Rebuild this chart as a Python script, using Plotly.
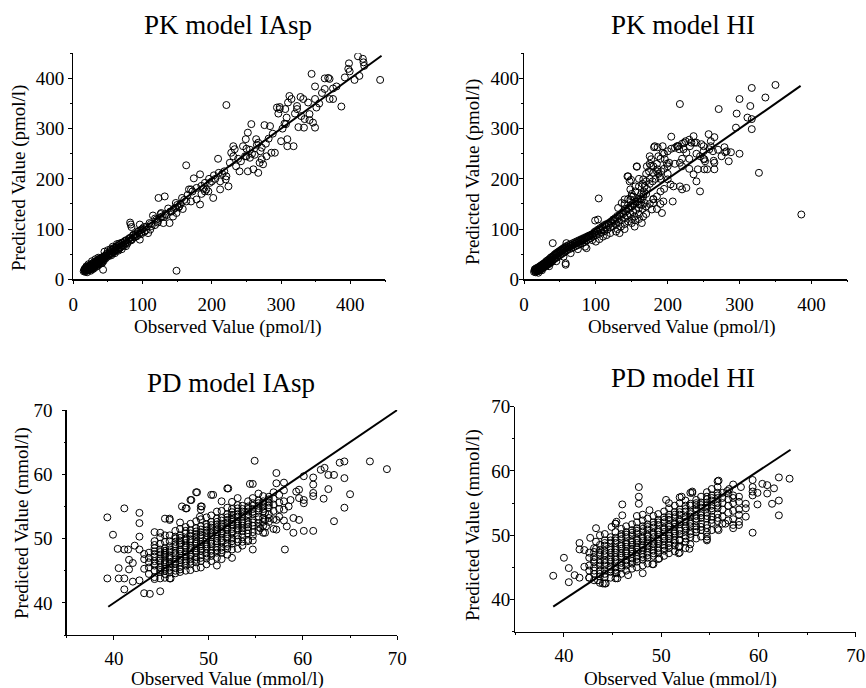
import plotly.graph_objects as go

# ---------------- DATA ----------------
# PK model IAsp: (observed, predicted) pmol/l
pk_iasp_points = [
    (15,16),(16,18),(17,15),(18,20),(18,17),(19,22),(20,19),(20,24),(21,18),(22,21),(22,26),(23,20),
    (24,23),(24,28),(25,22),(26,25),(26,30),(27,24),(28,27),(28,32),(29,26),(30,29),(30,34),(31,28),
    (32,31),(33,30),(33,36),(34,33),(35,32),(36,35),(36,39),(37,34),(38,37),(39,36),(40,39),(40,42),
    (41,38),(42,41),(43,40),(44,44),(45,42),(46,47),(20,14),(25,17),(30,22),(35,27),(38,30),(42,33),
    (27,36),(32,40),(36,43),(22,30),(19,26),(17,21),(28,20),(33,25),(40,32),(44,37),(47,45),(48,50),
    (50,48),(52,52),(53,56),(55,53),(56,58),(58,55),(59,61),(60,58),(61,63),(62,60),(63,66),(65,62),
    (66,68),(67,64),(68,70),(70,66),(71,72),(72,69),(74,75),(75,71),(77,78),(78,74),(80,80),(82,77),
    (83,83),(85,80),(86,87),(88,84),(90,90),(92,86),(93,94),(95,91),(97,98),(98,93),(100,101),(55,48),
    (60,52),(65,57),(70,60),(50,58),(57,65),(63,70),(45,55),(76,66),(43,19),
    (82,113),(83,109),(84,104),(96,109),(99,99),(96,79),(106,105),(111,99),(103,95),(108,92),(112,110),
    (115,127),(120,119),(118,108),(122,116),(125,122),(127,132),(130,112),(128,125),(133,130),(135,128),
    (139,112),(144,125),(140,135),(145,140),(147,142),(149,132),(150,148),(153,145),(155,150),(158,140),
    (160,158),(163,155),(123,162),(132,165),(163,227),(167,179),(170,179),(170,155),(174,201),(178,159),
    (183,149),(183,209),(185,170),(188,180),(190,175),(192,179),(195,175),(197,192),(200,195),(202,162),
    (205,200),(209,240),(212,179),(212,195),(215,210),(218,215),(220,199),(221,205),(224,185),(226,232),
    (228,252),(231,245),(231,265),(233,259),(235,225),(238,240),(240,215),(242,235),(245,265),(248,245),
    (249,279),(250,260),(250,245),(252,215),(252,292),(255,242),(255,258),(257,309),(258,250),(260,219),
    (262,248),(264,279),(265,268),(267,272),(267,212),(269,232),(270,255),(272,262),(272,239),(274,229),
    (276,307),(278,270),(279,245),(282,280),(284,305),(286,252),(288,290),(291,252),(294,342),(296,330),
    (298,339),(298,343),(300,275),(302,300),(305,310),(306,339),(307,309),(308,322),(309,279),(309,265),
    (310,352),(312,365),(315,359),(318,265),(320,330),(323,345),(323,339),(325,303),(328,363),(329,325),
    (332,359),(333,302),(334,319),(339,352),(341,329),(341,317),(344,409),(346,312),(349,384),(349,359),
    (349,302),(351,342),(355,350),(359,371),(363,379),(363,400),(368,401),(370,399),(370,359),(375,359),
    (375,380),(380,384),(387,344),(392,402),(397,419),(398,430),(399,414),(406,397),(411,444),(413,405),
    (418,439),(419,432),(420,425),(443,397),(149,17),(221,347),
    (16,20),(17,17),(18,23),(19,19),(20,21),(21,23),(22,18),(23,24),(24,19),(25,26),(26,21),(27,27),
    (28,23),(29,30),(30,25),(31,32),(32,27),(33,34),(34,29),(35,37),(36,31),(37,40),(38,34),(39,42),
    (41,35),(42,44),(44,40),(45,46),(47,42),(49,52),(51,46),(53,50),(54,60),(56,51),(58,62),(60,55),
    (62,64),(64,59),(66,71),(68,63),(70,73),(73,67),(75,77),(78,71),(81,82),(84,78),(87,89),(90,85),
    (94,96),(98,90),(102,104),(105,98),(110,112),(113,106),(118,121),(122,113),(126,130),(131,124),
    (137,141),(142,135),(148,152),(152,143),(157,162),(165,168),(172,175),(178,182),(185,186),(190,192),
    (196,200),(203,207),(210,212),
]

# PK model HI: (observed, predicted) pmol/l
pk_hi_points = [
    (14,15),(15,18),(16,14),(17,20),(18,16),(19,23),(20,18),(21,25),(22,20),(23,27),(24,22),(25,29),
    (26,24),(27,31),(28,26),(29,33),(30,28),(31,36),(32,30),(33,38),(34,32),(35,40),(36,34),(37,43),
    (38,36),(39,45),(40,38),(41,47),(42,40),(43,50),(44,42),(45,52),(46,44),(47,54),(48,46),(49,56),
    (50,48),(51,58),(52,50),(53,60),(54,52),(55,62),(56,54),(57,64),(58,56),(59,66),(60,58),(62,68),
    (63,60),(65,70),(66,62),(68,72),(69,64),(71,74),(72,66),(74,76),(75,68),(77,78),(78,70),(80,80),
    (81,72),(83,82),(84,74),(86,84),(87,77),(89,86),(90,80),(92,88),(93,82),(95,90),(96,85),(98,92),
    (100,88),(102,95),(104,90),(106,98),(108,93),(110,100),(112,96),(114,104),(116,99),(118,108),
    (120,103),(122,112),(124,106),(126,116),(128,110),(130,120),(132,114),(134,125),(136,118),(138,130),
    (140,122),(142,135),(144,126),(146,140),(148,130),(150,145),(152,134),(154,150),(156,138),(158,155),
    (160,142),(162,160),(164,148),(166,165),(168,152),(170,170),
    (40,72),(59,72),(58,32),(58,29),(87,62),(99,117),(103,119),(104,161),(124,119),(133,92),(131,142),
    (136,152),(140,159),(145,205),(147,195),(148,179),(152,165),(148,159),(154,125),(154,105),(157,225),
    (161,149),(164,159),(164,112),(166,169),(166,125),(166,199),(168,185),(171,225),(174,215),(175,245),
    (178,139),(180,152),(180,159),(180,212),(182,265),(187,245),(189,205),(192,132),(193,265),(193,252),
    (194,155),(196,239),(200,225),(200,199),(202,232),(204,189),(205,284),(207,155),(208,185),(213,265),
    (216,259),(217,232),(217,185),(217,349),(220,225),(220,179),(222,259),(223,272),(226,252),(226,182),
    (231,265),(236,285),(236,209),(237,272),(240,195),(245,175),(245,245),(247,269),(252,235),(255,219),
    (257,289),(263,255),(265,283),(265,232),(265,219),(271,339),(279,263),(280,253),(282,255),(288,253),
    (295,302),(296,330),(300,359),(311,322),(315,345),(317,381),(317,319),(317,299),(327,212),(336,362),
    (350,387),(386,129),
    (130,100),(135,105),(140,110),(145,115),(150,120),(155,118),(160,130),(165,140),(170,145),(175,150),
    (180,160),(185,165),(190,175),(195,180),(185,140),(190,150),(170,130),(160,120),(150,112),(140,100),
    (128,95),(120,92),(115,88),(110,85),(105,80),(100,75),(95,78),(85,65),(75,60),(65,52),(55,45),
    (45,36),(35,26),(25,18),(20,13),
    (140,150),(145,160),(150,165),(155,175),(160,185),(165,190),(170,195),(175,200),(180,225),(185,230),
    (190,240),(195,250),(200,255),(205,260),(210,262),(215,265),(220,270),(225,275),(230,278),(240,272),
    (250,265),(260,275),(270,258),(275,245),(285,235),(300,250),(240,250),(250,240),(230,240),(210,230),
    (200,210),(190,200),(185,215),(175,230),(170,210),(160,200),(155,185),(150,170),(220,240),(230,220),
    (250,255),(260,265),(157,224),(144,205),(149,198),(177,239),(177,226),(186,219),(242,219),(251,219),
    (251,239),(264,236),(258,259),(181,263),(186,263),(214,265),(233,272),
    (15,20),(16,16),(17,22),(18,19),(19,16),(20,22),(21,17),(22,24),(23,19),(24,26),(25,21),(26,28),
    (27,23),(28,30),(29,25),(30,32),(31,27),(32,34),(33,29),(34,36),(35,31),(36,38),(37,33),(38,41),
    (39,35),(40,43),(42,46),(44,48),(46,50),(48,52),(50,54),(52,56),(54,58),(56,60),(58,62),(60,64),
    (62,63),(64,66),(66,68),(68,68),(70,70),(72,72),(74,72),(76,74),(78,76),(80,78),(82,79),(84,80),
    (86,82),(88,84),(90,86),(92,86),(94,88),(96,90),(98,94),(100,96),(103,99),(106,102),(109,105),
    (112,108),(115,110),(118,112),(121,115),(124,118),(127,122),(130,126),(133,128),(136,132),(139,136),
    (142,140),(145,142),(148,146),(151,150),(155,155),(159,160),(163,170),(167,175),(171,180),(175,190),
    (179,195),(183,200),(187,210),(191,215),(195,220),(199,230),
]

# PD model IAsp: observed glucose columns with predicted values (mmol/l)
pd_iasp_columns = [
    (43.7, [44.5, 45.5, 46.3, 47.0, 47.8]),
    (44.3, [44.0, 45.0, 45.8, 46.5, 47.2, 48.0, 49.0, 49.6, 46.1, 47.6, 48.5]),
    (44.9, [43.8, 44.8, 45.5, 46.2, 46.9, 47.5, 48.3, 49.2, 50.2, 45.1, 46.6, 47.9]),
    (45.4, [44.5, 45.3, 46.0, 46.6, 47.2, 47.8, 48.5, 49.5, 50.5, 53.1, 45.0, 46.3, 47.5, 48.1]),
    (45.9, [43.8, 44.7, 45.5, 46.2, 46.8, 47.4, 48.0, 48.8, 49.6, 50.5, 52.9, 45.1, 46.0, 47.1, 48.3]),
    (46.5, [44.6, 45.4, 46.1, 46.8, 47.4, 48.1, 48.8, 49.5, 50.3, 51.2, 45.0, 46.4, 47.7, 49.1, 50.0]),
    (47.0, [44.8, 45.6, 46.3, 47.0, 47.6, 48.3, 49.0, 49.7, 50.5, 51.5, 52.5, 45.2, 46.7, 48.0, 49.3, 50.1]),
    (47.6, [45.0, 45.8, 46.5, 47.2, 47.9, 48.6, 49.3, 50.0, 50.8, 51.8, 54.7, 46.2, 47.5, 48.9, 49.7, 51.2]),
    (48.1, [45.1, 46.0, 46.8, 47.5, 48.2, 48.9, 49.6, 50.4, 51.3, 52.3, 56.0, 46.4, 47.2, 48.5, 49.9, 50.8]),
    (48.7, [45.4, 46.3, 47.1, 47.8, 48.5, 49.2, 49.9, 50.7, 51.6, 52.7, 57.2, 46.7, 48.1, 49.5, 50.3, 51.1]),
    (49.2, [45.5, 46.5, 47.4, 48.1, 48.8, 49.5, 50.2, 51.0, 51.9, 53.0, 54.5, 55.0, 47.0, 48.4, 49.1, 50.6, 51.4]),
    (49.8, [46.0, 46.9, 47.7, 48.4, 49.1, 49.8, 50.5, 51.3, 52.2, 53.3, 47.3, 48.8, 50.1, 50.9, 51.8]),
    (50.3, [46.5, 47.3, 48.1, 48.8, 49.5, 50.2, 50.9, 51.7, 52.6, 53.6, 56.8, 47.7, 49.2, 50.5, 51.3, 52.1]),
    (50.9, [45.8, 47.0, 47.8, 48.6, 49.3, 50.0, 50.7, 51.4, 52.2, 53.1, 54.2, 48.2, 49.6, 51.0, 51.8, 52.6]),
    (51.4, [46.8, 47.8, 48.6, 49.4, 50.1, 50.8, 51.5, 52.3, 53.2, 54.3, 55.8, 48.2, 49.7, 51.1, 51.9, 52.8]),
    (52.0, [47.5, 48.4, 49.2, 50.0, 50.7, 51.4, 52.1, 52.9, 53.8, 54.8, 57.8, 48.8, 50.3, 51.7, 52.5, 53.3]),
    (52.5, [48.3, 49.2, 50.0, 50.8, 51.5, 52.2, 52.9, 53.7, 54.6, 55.7, 49.6, 51.1, 52.6, 53.3, 54.1]),
    (53.1, [48.4, 49.5, 50.5, 51.3, 52.0, 52.7, 53.4, 54.2, 55.2, 56.3, 49.9, 51.6, 52.3, 53.8, 54.7]),
    (53.6, [48.9, 50.2, 51.2, 52.0, 52.7, 53.4, 54.2, 55.1, 49.5, 51.6, 52.4, 53.8, 54.6]),
    (54.2, [49.8, 50.8, 51.8, 52.6, 53.4, 54.2, 55.0, 55.8, 51.3, 52.2, 53.8, 54.6]),
    (54.7, [48.3, 49.7, 51.0, 52.0, 53.0, 53.8, 54.6, 55.5, 56.3, 58.5, 50.4, 52.5, 54.2, 55.1]),
    (55.3, [51.2, 52.4, 53.4, 54.3, 55.1, 55.9, 57.0, 51.8, 53.0, 54.7, 55.5]),
    (55.8, [50.9, 52.0, 53.2, 54.2, 55.0, 55.8, 56.6, 52.6, 54.6, 55.4]),
    (56.4, [52.6, 53.8, 54.8, 55.6, 56.5, 53.2, 55.2, 56.1]),
    (56.9, [51.5, 53.0, 54.3, 55.3, 56.2, 57.2]),
    (57.5, [53.4, 54.6, 55.6, 56.8]),
    (58.0, [52.8, 54.5, 55.8, 57.5, 58.7]),
]
pd_iasp_extra = [
    (39.3,53.3),(39.9,50.6),(41.1,54.7),(40.4,48.4),(41.1,48.3),(41.5,48.3),(42.2,48.9),(42.7,48.3),
    (42.7,54.0),(42.7,52.4),(42.7,50.3),(39.3,43.8),(40.5,45.4),(40.5,43.8),(41.1,43.8),(41.1,42.1),
    (41.6,46.7),(41.6,45.2),(42.0,46.2),(42.0,43.3),(42.7,43.5),(43.2,41.5),(43.8,41.4),(44.9,41.8),
    (44.3,51.0),(44.9,50.9),(45.9,53.1),(47.2,55.0),(47.7,54.7),(48.2,56.0),(48.8,57.2),(49.1,53.4),
    (49.3,55.0),(50.5,56.8),(52.1,57.8),(54.4,58.5),(54.9,62.1),(57.2,60.2),(57.2,58.6),(58.1,48.3),
    (59.0,50.9),(60.1,51.2),(61.1,51.2),(63.3,52.7),(64.4,54.8),(65.0,56.9),(67.1,62.0),(68.9,60.8),
    (63.9,61.8),(64.4,62.0),(61.9,60.7),(62.3,61.0),(62.7,59.9),(63.3,59.9),(62.7,57.7),(64.4,59.4),
    (61.1,59.5),(61.1,58.4),(61.1,57.1),(61.1,56.6),(62.2,56.2),(60.1,56.0),(60.1,55.5),(60.1,59.7),
    (59.6,52.9),(59.0,53.2),(58.3,51.9),(58.5,55.0),(58.7,56.0),(59.3,57.3),(59.6,57.6),(59.6,56.3),
    (56.0,54.0),(56.0,52.9),(56.1,51.9),(57.2,52.9),(57.2,51.4),(55.5,51.6),(56.0,50.9),(43.2,46.8),
    (43.2,45.3),(43.2,47.6),(44.3,43.7),(45.4,43.9),(46.0,43.8),(53.6,50.7),(54.2,49.6),(52.5,47.0),
]

# PD model HI: observed glucose columns with predicted values (mmol/l)
pd_hi_columns = [
    (42.6, [43.4, 44.5, 45.3, 46.5, 47.3]),
    (43.1, [43.0, 44.0, 45.0, 45.8, 46.6, 47.4, 48.0, 44.5, 46.2]),
    (43.7, [42.6, 43.6, 44.5, 45.3, 46.1, 46.9, 47.7, 48.5, 50.0, 44.0, 45.7, 47.3]),
    (44.2, [42.5, 43.5, 44.5, 45.3, 46.1, 46.9, 47.6, 48.4, 49.2, 50.2, 44.0, 45.7, 47.2, 48.8]),
    (44.8, [43.4, 44.3, 45.1, 45.9, 46.6, 47.3, 48.0, 48.8, 49.7, 44.7, 46.2, 47.7, 49.2]),
    (45.3, [43.3, 44.2, 45.0, 45.8, 46.6, 47.3, 48.0, 48.8, 49.6, 50.5, 51.8, 44.6, 46.2, 47.7, 49.2]),
    (45.9, [44.0, 44.9, 45.7, 46.5, 47.2, 47.9, 48.6, 49.4, 50.2, 51.0, 45.3, 46.8, 48.3, 49.8]),
    (46.4, [44.5, 45.3, 46.1, 46.8, 47.5, 48.2, 48.9, 49.7, 50.5, 51.4, 45.7, 47.2, 48.6, 50.1]),
    (47.0, [44.8, 45.6, 46.4, 47.1, 47.8, 48.5, 49.2, 50.0, 50.8, 51.7, 46.0, 47.5, 48.9, 50.4]),
    (47.5, [45.0, 45.9, 46.7, 47.4, 48.1, 48.8, 49.5, 50.3, 51.1, 52.0, 53.0, 46.3, 47.8, 49.2, 50.7]),
    (48.1, [45.3, 46.2, 47.0, 47.7, 48.4, 49.1, 49.8, 50.6, 51.4, 52.3, 53.2, 46.6, 48.1, 49.5, 51.0]),
    (48.6, [45.6, 46.5, 47.3, 48.0, 48.7, 49.4, 50.1, 50.9, 51.7, 52.6, 46.9, 48.4, 49.8, 51.3]),
    (49.2, [45.5, 46.8, 47.6, 48.3, 49.0, 49.7, 50.4, 51.2, 52.0, 53.0, 47.2, 48.7, 50.1, 51.6]),
    (49.7, [46.3, 47.2, 48.0, 48.7, 49.4, 50.1, 50.8, 51.6, 52.4, 53.3, 47.6, 49.1, 50.5, 52.0]),
    (50.3, [46.8, 47.6, 48.4, 49.1, 49.8, 50.5, 51.2, 52.0, 52.8, 53.7, 48.0, 49.5, 50.9, 52.4]),
    (50.8, [47.2, 48.0, 48.8, 49.5, 50.2, 50.9, 51.6, 52.4, 53.2, 54.2, 55.0, 48.4, 49.9, 51.3, 52.8]),
    (51.4, [47.5, 48.4, 49.2, 49.9, 50.6, 51.3, 52.0, 52.8, 53.6, 54.6, 48.8, 50.3, 51.7, 53.2]),
    (51.9, [47.3, 48.3, 49.3, 50.2, 51.0, 51.7, 52.4, 53.2, 54.0, 55.0, 55.9, 49.2, 50.7, 52.1, 53.6]),
    (52.5, [48.0, 49.0, 49.9, 50.7, 51.4, 52.1, 52.9, 53.7, 54.6, 55.4, 49.5, 51.1, 52.5, 54.1]),
    (53.0, [48.6, 49.7, 50.6, 51.4, 52.1, 52.9, 53.7, 54.6, 56.6, 50.2, 51.8, 53.3, 54.9]),
    (53.6, [49.5, 50.5, 51.4, 52.2, 53.0, 53.8, 54.7, 55.5, 50.9, 52.6, 54.2, 55.0]),
    (54.1, [49.8, 50.8, 51.8, 52.7, 53.5, 54.3, 55.1, 56.0, 51.3, 53.1, 54.7]),
    (54.7, [49.4, 50.5, 51.6, 52.6, 53.5, 54.3, 55.1, 56.0, 56.7, 51.1, 53.0, 54.7, 55.6]),
    (55.2, [50.8, 51.9, 52.9, 53.8, 54.6, 55.4, 56.2, 57.2, 52.4, 54.2, 55.8]),
    (55.8, [51.0, 52.2, 53.3, 54.2, 55.0, 55.8, 56.6, 57.5, 58.4, 52.7, 54.6, 56.2]),
    (56.3, [51.8, 52.9, 54.0, 55.0, 55.8, 56.6]),
    (56.9, [52.3, 53.5, 54.6, 55.6, 56.5]),
    (57.4, [51.1, 51.6, 52.5, 53.8, 55.0, 55.8, 56.2]),
]
pd_hi_extra = [
    (38.9,43.7),(40.0,46.5),(40.5,44.9),(40.5,42.7),(41.1,43.8),(41.6,48.8),(41.6,47.8),(41.6,43.4),
    (42.1,45.1),(42.1,47.7),(42.7,49.6),(43.3,51.1),(43.3,49.0),(43.3,47.9),(44.9,51.3),(45.3,51.8),
    (46.0,53.1),(46.0,54.8),(45.4,52.1),(47.7,57.5),(47.7,56.0),(47.7,54.9),(48.8,53.9),(50.5,55.5),
    (52.1,56.0),(53.2,56.8),(53.2,56.6),(55.9,58.5),(59.4,50.4),(62.1,59.0),(63.2,58.8),(62.1,53.1),
    (62.1,55.4),(61.4,54.9),(59.9,54.8),(60.4,58.0),(60.9,57.8),(61.6,57.3),(60.9,56.5),(59.9,56.6),
    (59.4,58.6),(59.4,57.5),(59.4,56.8),(59.4,56.2),(58.7,54.9),(58.7,54.2),(58.7,52.9),(58.2,57.5),
    (58.0,56.0),(58.0,55.2),(58.0,54.0),(58.0,53.2),(58.0,52.1),(58.0,51.6),(56.6,51.8),(55.9,50.8),
    (54.7,49.8),(54.7,49.2),(52.9,47.9),(51.8,48.2),(51.8,47.2),(49.8,46.4),(49.1,45.5),(48.1,44.1),
    (46.6,43.8),(44.3,42.5),(44.0,42.5),(43.5,43.0),(42.6,43.4),(45.5,43.3),(45.4,44.1),(57.0,57.2),
    (57.4,57.9),(56.8,56.9),
]

# identity-line extents (observed range)
pk_iasp_line = [15, 445]
pk_hi_line = [15, 385]
pd_iasp_line = [39.4, 70.0]
pd_hi_line = [38.9, 63.3]

titles = ["PK model IAsp", "PK model HI", "PD model IAsp", "PD model HI"]
x_titles = ["Observed Value (pmol/l)", "Observed Value (pmol/l)",
            "Observed Value (mmol/l)", "Observed Value (mmol/l)"]
y_titles = ["Predicted Value (pmol/l)", "Predicted Value (pmol/l)",
            "Predicted Value (mmol/l)", "Predicted Value (mmol/l)"]

# ---------------- BUILD ----------------
def split_pairs(pairs):
    return [p[0] for p in pairs], [p[1] for p in pairs]

def split_columns(cols, extra):
    xs, ys = [], []
    for x, vals in cols:
        for v in vals:
            xs.append(x)
            ys.append(v)
    ex, ey = split_pairs(extra)
    return xs + ex, ys + ey

W, H = 866, 688
def px(x):
    return x / W
def py(y):
    return 1 - y / H

FONT = "Liberation Serif"

panels = [
    dict(data=split_pairs(pk_iasp_points), line=pk_iasp_line,
         xd=(73.3, 385.0), yd=(53.3, 279.3), rng=(0, 450), dt=100, mdt=50,
         tpos=(228, 25), xtpos=(228, 327), ytpos=(19, 178), ystand=4, xstand=8),
    dict(data=split_pairs(pk_hi_points), line=pk_hi_line,
         xd=(524.0, 847.3), yd=(53.3, 279.3), rng=(0, 450), dt=100, mdt=50,
         tpos=(683, 25), xtpos=(682, 327), ytpos=(473, 172), ystand=0, xstand=8),
    dict(data=split_columns(pd_iasp_columns, pd_iasp_extra), line=pd_iasp_line,
         xd=(66.7, 397.3), yd=(410.0, 635.0), rng=(35, 70), dt=10, mdt=5,
         tpos=(231, 383), xtpos=(227, 679), ytpos=(22, 523), ystand=9, xstand=6),
    dict(data=split_columns(pd_hi_columns, pd_hi_extra), line=pd_hi_line,
         xd=(515.3, 855.7), yd=(406.7, 631.7), rng=(35, 70), dt=10, mdt=5,
         tpos=(683, 378), xtpos=(680, 679), ytpos=(473, 525), ystand=0, xstand=6),
]

fig = go.Figure()
annotations = []
for i, p in enumerate(panels):
    n = "" if i == 0 else str(i + 1)
    m = str(i + 5)  # overlay axes that only carry the tick marks
    xs, ys = p["data"]
    fig.add_trace(go.Scatter(
        x=xs, y=ys, mode="markers", xaxis="x" + n, yaxis="y" + n,
        marker=dict(symbol="circle-open", size=7, color="black", line=dict(width=1)),
        showlegend=False, hoverinfo="skip"))
    fig.add_trace(go.Scatter(
        x=p["line"], y=p["line"], mode="lines", xaxis="x" + n, yaxis="y" + n,
        line=dict(color="black", width=2), showlegend=False, hoverinfo="skip"))
    # invisible trace so the tick-only overlay subplot gets drawn
    fig.add_trace(go.Scatter(
        x=p["line"], y=p["line"], mode="lines", xaxis="x" + m, yaxis="y" + m,
        line=dict(color="rgba(0,0,0,0)", width=0), showlegend=False, hoverinfo="skip"))
    base = dict(range=list(p["rng"]), dtick=p["dt"], tick0=0, showgrid=False,
                zeroline=False, automargin=False, fixedrange=True)
    # label axes: line + labels, no tick marks
    lab = dict(base, showline=True, linecolor="black", linewidth=1.3, ticks="",
               tickfont=dict(family=FONT, size=19, color="black"))
    # tick axes: major + minor outside tick marks, no labels
    tk = dict(base, showline=False, showticklabels=False, ticks="outside", ticklen=4,
              tickwidth=1, tickcolor="black",
              minor=dict(dtick=p["mdt"], ticks="outside", ticklen=2, tickwidth=1,
                         tickcolor="black"))
    xdom = [px(p["xd"][0]), px(p["xd"][1])]
    ydom = [py(p["yd"][1]), py(p["yd"][0])]
    fig.update_layout(**{
        "xaxis" + n: dict(lab, domain=xdom, anchor="y" + n, ticklabelstandoff=p["xstand"]),
        "yaxis" + n: dict(lab, domain=ydom, anchor="x" + n, ticklabelstandoff=p["ystand"]),
        "xaxis" + m: dict(tk, domain=xdom, anchor="y" + m, overlaying="x" + n),
        "yaxis" + m: dict(tk, domain=ydom, anchor="x" + m, overlaying="y" + n),
    })
    annotations.append(dict(text=titles[i], x=px(p["tpos"][0]), y=py(p["tpos"][1]),
                            xref="paper", yref="paper", showarrow=False,
                            xanchor="center", yanchor="middle",
                            font=dict(family=FONT, size=27, color="black")))
    annotations.append(dict(text=x_titles[i], x=px(p["xtpos"][0]), y=py(p["xtpos"][1]),
                            xref="paper", yref="paper", showarrow=False,
                            xanchor="center", yanchor="middle",
                            font=dict(family=FONT, size=19, color="black")))
    annotations.append(dict(text=y_titles[i], x=px(p["ytpos"][0]), y=py(p["ytpos"][1]),
                            xref="paper", yref="paper", showarrow=False, textangle=-90,
                            xanchor="center", yanchor="middle",
                            font=dict(family=FONT, size=19, color="black")))

fig.update_layout(width=W, height=H, margin=dict(l=0, r=0, t=0, b=0, autoexpand=False),
                  paper_bgcolor="white", plot_bgcolor="white",
                  annotations=annotations)

# remove the browser's default 8px body margin so the figure sits at the page origin
fig.write_html("out.html", config={"displayModeBar": False, "staticPlot": True},
               post_script="document.body.style.margin='0';document.body.style.overflow='hidden';")
